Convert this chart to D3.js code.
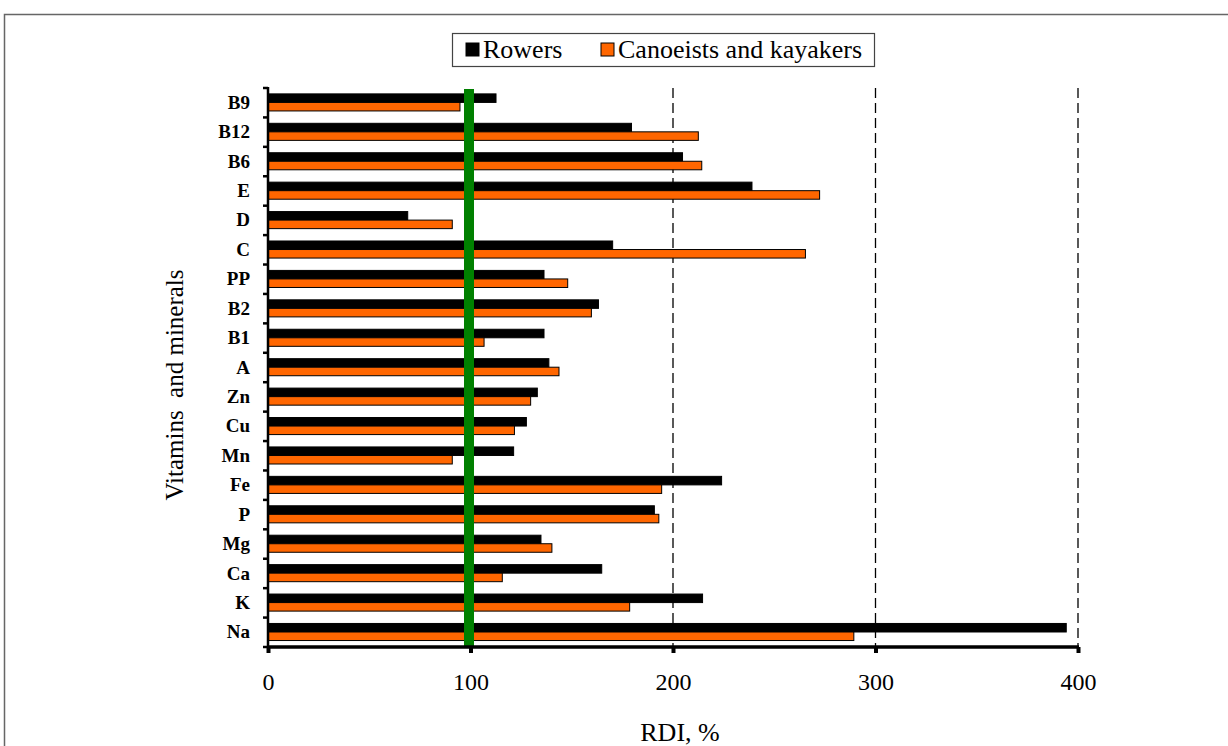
<!DOCTYPE html>
<html>
<head>
<meta charset="utf-8">
<script src="https://cdn.jsdelivr.net/npm/d3@7"></script>
<style>
  html, body { margin: 0; padding: 0; background: #fff; }
  svg { display: block; }
</style>
</head>
<body>
<svg id="chart" width="1228" height="746"></svg>
<script>
const categories = ["B9","B12","B6","E","D","C","PP","B2","B1","A","Zn","Cu","Mn","Fe","P","Mg","Ca","K","Na"];
const rowers   = [112.6,179.5,204.7,239,69,170.2,136.3,163.2,136.3,138.7,133,127.6,121.3,224,190.8,134.8,164.8,214.6,394.2];
const canoeists= [94.8,212.5,214.2,272.4,91,265.4,148,159.7,106.7,143.7,129.7,121.7,91,194.4,193,140.2,115.7,178.6,289.3];
const seriesNames = ["Rowers","Canoeists and kayakers"];
const seriesColors = ["#000000","#ff6600"];
const xTicks = [0,100,200,300,400];
const dashedRefs = [200,300,400];
const rdiLine = 100;

(function(){
const svg = d3.select("#chart");
const font = "'Liberation Serif','Times New Roman',serif";

// outer frame
svg.append("rect").attr("x",4.5).attr("y",14.5).attr("width",1240).attr("height",760)
  .attr("fill","none").attr("stroke","#666").attr("stroke-width",1.5);

const pLeft = 268, pRight = 1078, pTop = 88, pBottom = 647;
const x = d3.scaleLinear().domain([0,400]).range([pLeft,pRight]);
const y = d3.scaleBand().domain(categories).range([pTop,pBottom]).paddingInner(0).paddingOuter(0);
const bw = y.bandwidth();
const barOff = bw*0.2, barH = bw*0.29;

// dashed reference lines
svg.selectAll("line.dash").data(dashedRefs).enter().append("line")
  .attr("x1",d=>x(d)).attr("x2",d=>x(d)).attr("y1",pTop).attr("y2",pBottom)
  .attr("stroke","#000").attr("stroke-width",1.3).attr("stroke-dasharray","10,5");

// bars
const g = svg.append("g");
categories.forEach((c,i)=>{
  g.append("rect").attr("x",x(0)).attr("y",y(c)+barOff)
    .attr("width",x(rowers[i])-x(0)).attr("height",barH)
    .attr("fill",seriesColors[0]).attr("stroke","#000").attr("stroke-width",1);
  g.append("rect").attr("x",x(0)).attr("y",y(c)+barOff+barH)
    .attr("width",x(canoeists[i])-x(0)).attr("height",barH)
    .attr("fill",seriesColors[1]).attr("stroke","#000").attr("stroke-width",1);
});

// green RDI line
svg.append("line").attr("x1",x(rdiLine)-1.5).attr("x2",x(rdiLine)-1.5).attr("y1",pTop+1).attr("y2",pBottom)
  .attr("stroke","#008000").attr("stroke-width",10);

// y axis
const yAxis = d3.axisLeft(y).tickSize(0).tickPadding(18);
const ya = svg.append("g").attr("transform",`translate(${pLeft},0)`).call(yAxis);
ya.select(".domain").remove();
ya.selectAll("text").attr("font-family",font).attr("font-weight","bold").attr("font-size",19).attr("fill","#000");
svg.append("line").attr("x1",pLeft).attr("x2",pLeft).attr("y1",pTop-1).attr("y2",pBottom+1)
  .attr("stroke","#000").attr("stroke-width",2.5);
const boundaries = categories.map(c=>y(c)).concat([pBottom]);
svg.selectAll("line.ytick").data(boundaries).enter().append("line")
  .attr("x1",pLeft-5).attr("x2",pLeft).attr("y1",d=>d).attr("y2",d=>d)
  .attr("stroke","#000").attr("stroke-width",2.5);

// x axis
const xAxis = d3.axisBottom(x).tickValues(xTicks).tickSize(6).tickPadding(20);
const xa = svg.append("g").attr("transform",`translate(0,${pBottom})`).call(xAxis);
xa.select(".domain").attr("stroke","#000").attr("stroke-width",3.5).attr("d",`M${pLeft},0H${pRight+1}`);
xa.selectAll(".tick line").attr("stroke","#000").attr("stroke-width",4);
xa.selectAll("text").attr("font-family",font).attr("font-size",24).attr("fill","#000");

// axis titles
svg.append("text").attr("x",680).attr("y",741).attr("text-anchor","middle")
  .attr("font-family",font).attr("font-size",26).text("RDI, %");
svg.append("text").attr("transform","translate(183,385) rotate(-90)").attr("text-anchor","middle")
  .attr("font-family",font).attr("font-size",25).style("white-space","pre")
  .text("Vitamins  and minerals");

// legend
const lg = svg.append("g");
lg.append("rect").attr("x",452.5).attr("y",33.5).attr("width",422).attr("height",33)
  .attr("fill","#fff").attr("stroke","#444").attr("stroke-width",1.2);
const legendX = [466, 601];
seriesNames.forEach((n,i)=>{
  lg.append("rect").attr("x",legendX[i]).attr("y",43).attr("width",13).attr("height",13)
    .attr("fill",seriesColors[i]).attr("stroke","#000").attr("stroke-width",1);
  lg.append("text").attr("x",legendX[i]+17).attr("y",58).attr("font-family",font).attr("font-size",26)
    .attr("fill","#000").text(n);
});
})();
</script>
</body>
</html>
